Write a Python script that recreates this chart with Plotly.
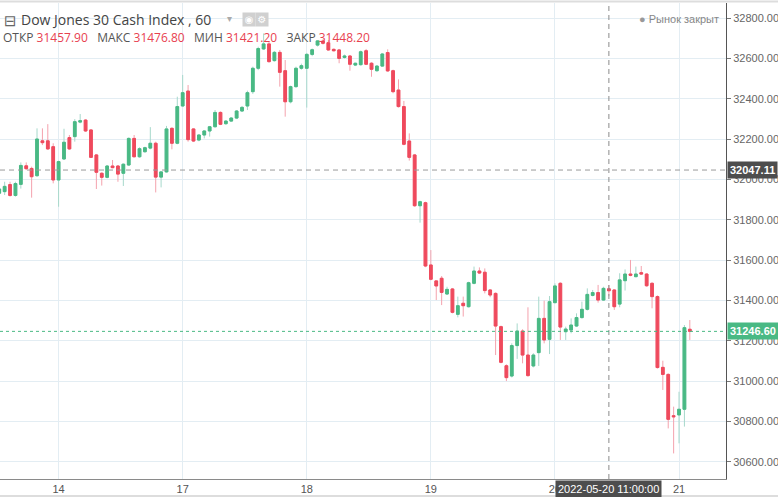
import plotly.graph_objects as go

# hourly candles (first one is cut by the left edge)
opens = [
    31932, 31940, 31975, 31921, 31976, 32068, 32055, 32019, 32192, 32192,
    32163, 31998, 32102, 32208, 32213, 32285, 32295, 32246, 32122, 32031,
    32011, 32067, 32067, 32031, 32072, 32204, 32113, 32138, 32156, 32180,
    32012, 32038, 32254, 32180, 32365, 32439, 32251, 32196, 32221, 32241,
    32262, 32333, 32277, 32290, 32305, 32340, 32365, 32436, 32552, 32648,
    32673, 32590, 32631, 32540, 32386, 32461, 32552, 32552, 32621, 32667,
    32687, 32679, 32646, 32643, 32606, 32613, 32568, 32570, 32639, 32577,
    32540, 32563, 32630, 32540, 32444, 32362, 32191, 32122, 31870, 31885,
    31576, 31497, 31510, 31432, 31457, 31331, 31386, 31369, 31485, 31546,
    31540, 31452, 31435, 31270, 31076, 31025, 31176, 31248, 31129, 31075,
    31141, 31311, 31207, 31389, 31485, 31245, 31253, 31273, 31315, 31356,
    31425, 31439, 31402, 31457.9, 31452, 31382, 31498, 31531, 31518, 31538,
    31531, 31485, 31419, 31068, 31033, 30828, 30832, 30860, 31257,
]
highs = [
    31960, 31989, 31989, 31989, 32085, 32085, 32064, 32254, 32254, 32275,
    32180, 32094, 32252, 32221, 32300, 32325, 32299, 32249, 32127, 32036,
    32072, 32097, 32072, 32080, 32209, 32221, 32160, 32163, 32260, 32188,
    32040, 32266, 32259, 32411, 32519, 32469, 32254, 32225, 32245, 32266,
    32345, 32338, 32295, 32310, 32345, 32365, 32441, 32560, 32659, 32725,
    32684, 32638, 32643, 32593, 32466, 32560, 32575, 32628, 32650, 32692,
    32696, 32692, 32650, 32648, 32620, 32618, 32580, 32640, 32648, 32582,
    32568, 32628, 32646, 32545, 32497, 32390, 32229, 32127, 31895, 31890,
    31650, 31500, 31521, 31468, 31462, 31419, 31419, 31493, 31568, 31564,
    31559, 31455, 31440, 31275, 31083, 31187, 31286, 31257, 31366, 31138,
    31419, 31399, 31422, 31485, 31490, 31270, 31311, 31336, 31394, 31460,
    31452, 31477, 31468, 31476.8, 31455, 31535, 31554, 31601, 31568, 31571,
    31535, 31490, 31425, 31101, 31038, 30873, 30947, 31278, 31303,
]
lows = [
    31925, 31923, 31915, 31915, 31955, 32047, 31910, 32014, 32171, 32147,
    31981, 31865, 32097, 32147, 32188, 32279, 32236, 32107, 31953, 31970,
    32006, 32056, 31989, 31968, 32067, 32110, 32108, 32133, 32150, 31936,
    31961, 32034, 32150, 32175, 32362, 32188, 32186, 32190, 32204, 32213,
    32258, 32270, 32272, 32286, 32300, 32336, 32345, 32425, 32543, 32643,
    32580, 32585, 32461, 32312, 32378, 32455, 32545, 32357, 32612, 32660,
    32670, 32639, 32636, 32577, 32600, 32540, 32563, 32565, 32568, 32510,
    32535, 32560, 32535, 32428, 32357, 32170, 32094, 31865, 31786, 31565,
    31500, 31402, 31377, 31427, 31336, 31316, 31320, 31365, 31480, 31531,
    31435, 31416, 31129, 31088, 31000, 31018, 31110, 31088, 31022, 31068,
    31075, 31187, 31134, 31386, 31204, 31204, 31237, 31268, 31310, 31350,
    31420, 31389, 31398, 31421.2, 31353, 31366, 31449, 31520, 31515, 31527,
    31468, 31361, 31062, 30956, 30765, 30641, 30691, 30774, 31204,
]
closes = [
    31953, 31966, 31921, 31980, 32070, 32054, 32014, 32201, 32183, 32152,
    31998, 32089, 32185, 32152, 32287, 32292, 32241, 32110, 32036, 32011,
    32067, 32059, 32027, 32076, 32204, 32113, 32153, 32158, 32180, 32012,
    32038, 32251, 32180, 32362, 32431, 32198, 32191, 32221, 32241, 32262,
    32333, 32274, 32290, 32305, 32340, 32358, 32431, 32552, 32650, 32673,
    32585, 32631, 32532, 32386, 32461, 32552, 32565, 32621, 32644, 32688,
    32676, 32643, 32639, 32601, 32613, 32572, 32577, 32634, 32572, 32547,
    32563, 32623, 32539, 32436, 32362, 32175, 32110, 31870, 31890, 31571,
    31505, 31472, 31440, 31455, 31341, 31374, 31374, 31488, 31546, 31536,
    31449, 31427, 31273, 31093, 31017, 31176, 31248, 31129, 31027, 31129,
    31311, 31204, 31394, 31472, 31268, 31258, 31278, 31315, 31356, 31430,
    31439, 31402, 31460, 31448.2, 31369, 31502, 31531, 31525, 31531, 31531,
    31473, 31419, 31067, 31033, 30810, 30823, 30860, 31265, 31246.6,
]

day_labels = ["14", "17", "18", "19", "20", "21"]
first_day_index = 11
candles_per_day = 23

ohlc_labels = ["ОТКР", "МАКС", "МИН", "ЗАКР"]
ohlc_values = [31457.90, 31476.80, 31421.20, 31448.20]
cross_index = 113
cross_time = "2022-05-20 11:00:00"
cross_price = 32047.11
last_price = closes[-1]

W, H = 778, 497
ML, MR, MT, MB = 0, 52, 3, 18
PW, PH = W - ML - MR, H - MT - MB

GREEN, RED = "#49b984", "#ef4a5d"
GREEN_WICK, RED_WICK = "#a6d8cb", "#f4a2ad"
GRID = "#e3edf3"
TEXT = "#555555"


def px_x(x):
    return (x - ML) / PW


def px_y(y):
    return (H - MB - y) / PH


x = list(range(len(opens)))
body_hi = [max(o, c) for o, c in zip(opens, closes)]
body_lo = [min(o, c) for o, c in zip(opens, closes)]
tickvals = [first_day_index + k * candles_per_day for k in range(len(day_labels))]

fig = go.Figure()
# wicks (lighter colour)
fig.add_trace(go.Candlestick(
    x=x, open=opens, high=highs, low=lows, close=closes,
    increasing=dict(line=dict(color=GREEN_WICK, width=1), fillcolor="rgba(0,0,0,0)"),
    decreasing=dict(line=dict(color=RED_WICK, width=1), fillcolor="rgba(0,0,0,0)"),
    hoverinfo="skip", showlegend=False,
))
# bodies
fig.add_trace(go.Candlestick(
    x=x, open=opens, high=body_hi, low=body_lo, close=closes,
    increasing=dict(line=dict(color=GREEN, width=1), fillcolor=GREEN),
    decreasing=dict(line=dict(color=RED, width=1), fillcolor=RED),
    hoverinfo="skip", showlegend=False,
))

x0 = first_day_index - 58.6 / 5.395
fig.update_xaxes(
    range=[x0, x0 + PW / 5.395], rangeslider_visible=False,
    tickvals=tickvals, ticktext=day_labels,
    showgrid=True, gridcolor=GRID, gridwidth=1, zeroline=False,
    showline=True, linecolor="#8a8a8a", linewidth=1, ticks="",
    tickfont=dict(family="Liberation Sans Narrow, Liberation Sans", size=11, color=TEXT),
)
fig.update_yaxes(
    side="right", range=[30514, 32876],
    tickvals=list(range(30600, 32801, 200)), tickformat=".2f",
    showgrid=True, gridcolor=GRID, gridwidth=1, zeroline=False,
    showline=True, linecolor="#555555", linewidth=1,
    ticks="outside", ticklen=4, tickcolor="#777777",
    tickfont=dict(family="Liberation Sans", size=11, color="#666666"),
)

shapes = [
    dict(type="line", xref="paper", yref="y", x0=0, x1=1, y0=cross_price, y1=cross_price,
         line=dict(color="#9a9a9a", width=1, dash="5px,4px")),
    dict(type="line", xref="x", yref="paper", x0=cross_index, x1=cross_index, y0=0, y1=1,
         line=dict(color="#8a8a8a", width=1, dash="5px,4px")),
    dict(type="line", xref="paper", yref="y", x0=0, x1=1, y0=last_price, y1=last_price,
         line=dict(color=GREEN, width=1, dash="dot")),
    dict(type="line", xref="paper", yref="paper", x0=0, x1=W / PW, y0=px_y(1.5), y1=px_y(1.5),
         line=dict(color="#dddddd", width=2)),
    dict(type="line", xref="paper", yref="paper", x0=0, x1=W / PW, y0=px_y(496), y1=px_y(496),
         line=dict(color="#dddddd", width=2)),
]

ohlc_text = "\u00a0\u00a0\u00a0".join(
    f"{lab}\u00a0<span style='color:#e8414f'>{val:.2f}</span>"
    for lab, val in zip(ohlc_labels, ohlc_values)
)

annotations = [
    dict(text="⊟", x=px_x(2), y=px_y(21), xanchor="left", yanchor="middle",
         font=dict(family="DejaVu Sans", size=15, color="#666666")),
    dict(text="Dow Jones 30 Cash Index , 60", x=px_x(19), y=px_y(20), xanchor="left",
         yanchor="middle", font=dict(family="Open Sans", size=14, color="#444444")),
    dict(text="▾", x=px_x(225), y=px_y(19), xanchor="left", yanchor="middle",
         font=dict(family="DejaVu Sans", size=10, color="#aaaaaa")),
    dict(text="◉", x=px_x(249), y=px_y(20), xanchor="center", yanchor="middle",
         bgcolor="#d0d0d0", borderpad=0, width=12, height=13,
         font=dict(family="DejaVu Sans", size=10, color="#ffffff")),
    dict(text="⚙", x=px_x(262), y=px_y(20), xanchor="center", yanchor="middle",
         bgcolor="#d0d0d0", borderpad=0, width=12, height=13,
         font=dict(family="DejaVu Sans", size=10, color="#ffffff")),
    dict(text=ohlc_text, x=px_x(1), y=px_y(38), xanchor="left", yanchor="middle",
         font=dict(family="Open Sans", size=12, color="#555555")),
    dict(text="<span style='color:#999999'>●</span>\u00a0Рынок закрыт", x=px_x(721), y=px_y(19),
         xanchor="right", yanchor="middle",
         font=dict(family="Liberation Sans", size=11, color="#888888")),
    # crosshair labels
    dict(text=f"<b>{cross_price:.2f}</b>", xref="paper", yref="y", x=1, y=cross_price,
         xanchor="left", yanchor="middle", xshift=1, bgcolor="#4d4d4d", borderpad=2,
         font=dict(family="Liberation Sans", size=11, color="#ffffff")),
    dict(text=f"<b>{last_price:.2f}</b>", xref="paper", yref="y", x=1, y=last_price,
         xanchor="left", yanchor="middle", xshift=1, bgcolor=GREEN, borderpad=2,
         font=dict(family="Liberation Sans", size=11, color="#ffffff")),
    dict(text=cross_time, xref="x", yref="paper", x=cross_index, y=0, xanchor="center",
         yanchor="top", yshift=-1, bgcolor="#4d4d4d", borderpad=2,
         font=dict(family="Liberation Sans Narrow, Liberation Sans", size=11, color="#ffffff")),
]
for a in annotations:
    a.setdefault("xref", "paper")
    a.setdefault("yref", "paper")
    a["showarrow"] = False

fig.update_layout(
    width=W, height=H, margin=dict(l=ML, r=MR, t=MT, b=MB),
    paper_bgcolor="white", plot_bgcolor="white",
    boxgap=0.28, showlegend=False,
    shapes=shapes, annotations=annotations,
)
# the page's default body margin would push the figure 8px off the window
fig.write_html("out.html", config={"displayModeBar": False},
               post_script="document.body.style.margin = '0';")
